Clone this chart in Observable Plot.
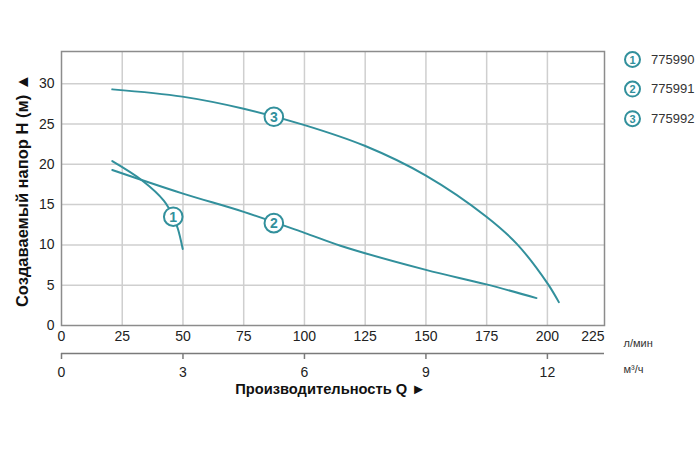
<!DOCTYPE html>
<html>
<head>
<meta charset="utf-8">
<script src="https://cdn.jsdelivr.net/npm/d3@7"></script>
<script src="https://cdn.jsdelivr.net/npm/@observablehq/plot@0.6"></script>
<style>
  html, body { margin: 0; padding: 0; background: #fff; }
  #chart { width: 700px; height: 451px; }
</style>
</head>
<body>
<div id="chart"></div>
<script>
// ---- data ----
const seriesIds = ["1", "2", "3"];
const seriesNames = ["775990", "775991", "775992"];

const q1 = [20.9, 33.2, 42.1, 46.0, 47.9, 49.9];
const h1 = [20.4, 18.0, 15.5, 13.5, 12.0, 9.5];

const q2 = [20.9, 49.7, 75.0, 100.0, 114.8, 150.0, 174.9, 195.5];
const h2 = [19.3, 16.4, 14.1, 11.5, 9.9, 6.9, 5.1, 3.4];

const q3 = [20.9, 49.7, 75.0, 99.7, 124.8, 150.0, 174.9, 187.5, 200.1, 204.7];
const h3 = [29.3, 28.4, 26.9, 24.9, 22.3, 18.6, 13.5, 10.1, 5.2, 2.9];

const labelQ = [46.0, 87.4, 87.4];
const labelH = [13.5, 12.7, 25.9];

const yTicks = [0, 5, 10, 15, 20, 25, 30];
const lpmTicks = [0, 25, 50, 75, 100, 125, 150, 175, 200];
const lastLpmTick = 225;
const m3hTicks = [0, 3, 6, 9, 12];
const lpmPerM3h = 1000 / 60;

const xMax = 223.5;
const yMax = 34;

const yTitle = "Создаваемый напор H (м) ▲";
const xTitle = "Производительность Q ►";
const unitLpm = "л/мин";
const unitM3h = "м³/ч";

// ---- build ----
const teal = "#32909c";
const curves = [
  q1.map((q, i) => ({q, h: h1[i], s: "1"})),
  q2.map((q, i) => ({q, h: h2[i], s: "2"})),
  q3.map((q, i) => ({q, h: h3[i], s: "3"}))
];
const curveLabels = seriesIds.map((id, i) => ({id, q: labelQ[i], h: labelH[i]}));

const legendMarks = [];
seriesIds.forEach((id, i) => {
  const dy = 8 + i * 29.6;
  legendMarks.push(
    Plot.dot([id], {frameAnchor: "top-right", dx: 28, dy, r: 7.5, fill: "white", stroke: teal, strokeWidth: 2}),
    Plot.text([id], {frameAnchor: "top-right", dx: 28, dy: dy + 0.5, text: d => d, textAnchor: "middle", lineAnchor: "middle", fill: teal, fontWeight: "bold", fontSize: 11}),
    Plot.text([seriesNames[i]], {frameAnchor: "top-right", dx: 46.5, dy, text: d => d, textAnchor: "start", lineAnchor: "middle", fill: "#333", fontSize: 13})
  );
});

const chart = Plot.plot({
  width: 700,
  height: 451,
  marginLeft: 61,
  marginRight: 96,
  marginTop: 51,
  marginBottom: 126,
  style: {fontFamily: "'Liberation Sans', Arial, sans-serif", fontSize: "14px", background: "white", overflow: "visible"},
  x: {domain: [0, xMax]},
  y: {domain: [0, yMax]},
  marks: [
    Plot.ruleY(yTicks.filter(d => d > 0), {stroke: "#cfcfcf", strokeWidth: 1.5}),
    Plot.ruleX(lpmTicks.filter(d => d > 0), {stroke: "#cfcfcf", strokeWidth: 1.5}),
    Plot.frame({stroke: "#8c8c8c", strokeWidth: 1.5}),
    Plot.axisY(yTicks, {tickSize: 0, tickPadding: 7, fontSize: 14, fill: "#222", label: null}),
    Plot.axisX(lpmTicks, {tickSize: 0, tickPadding: 6, fontSize: 14, fill: "#222", label: null}),
    Plot.text([lastLpmTick], {x: () => xMax, frameAnchor: "bottom", text: d => String(d), textAnchor: "end", lineAnchor: "top", dy: 6, fontSize: 14, fill: "#222"}),
    // second axis (m³/h)
    Plot.ruleY([0], {x1: 0, x2: xMax, dy: 28, stroke: "#7a7a7a", strokeWidth: 1.5}),
    Plot.axisX(m3hTicks.map(d => d * lpmPerM3h), {tickFormat: d => String(Math.round(d / lpmPerM3h)), tickSize: 6, tickPadding: 8, dy: 28, stroke: "#7a7a7a", strokeWidth: 1.5, fontSize: 14, fill: "#222", label: null}),
    // curves
    ...curves.map(c => Plot.line(c, {x: "q", y: "h", stroke: teal, strokeWidth: 2, curve: "catmull-rom"})),
    Plot.dot(curveLabels, {x: "q", y: "h", r: 9.3, fill: "white", stroke: teal, strokeWidth: 2}),
    Plot.text(curveLabels, {x: "q", y: "h", text: "id", fill: teal, fontWeight: "bold", fontSize: 14, dy: 0.5}),
    // titles
    Plot.text([yTitle], {frameAnchor: "left", dx: -39, dy: 2, rotate: -90, text: d => d, textAnchor: "middle", lineAnchor: "middle", fontWeight: "bold", fontSize: 16.5, fill: "#111"}),
    Plot.text([xTitle], {frameAnchor: "bottom", dx: -2.5, dy: 64, text: d => d, textAnchor: "middle", lineAnchor: "middle", fontWeight: "bold", fontSize: 14.7, fill: "#111"}),
    Plot.text([unitLpm], {frameAnchor: "bottom-right", dx: 19, dy: 18, text: d => d, textAnchor: "start", lineAnchor: "middle", fontSize: 11, fill: "#333"}),
    Plot.text([unitM3h], {frameAnchor: "bottom-right", dx: 19, dy: 44, text: d => d, textAnchor: "start", lineAnchor: "middle", fontSize: 11, fill: "#333"}),
    ...legendMarks
  ]
});
document.getElementById("chart").appendChild(chart);
</script>
</body>
</html>
